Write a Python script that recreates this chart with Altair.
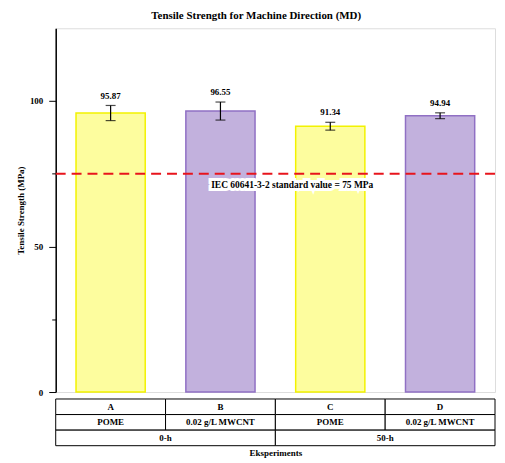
import altair as alt
import pandas as pd

groups = ["A", "B", "C", "D"]
materials = ["POME", "0.02 g/L MWCNT", "POME", "0.02 g/L MWCNT"]
times = ["0-h", "50-h"]
strength = [95.87, 96.55, 91.34, 94.94]
errors = [2.6, 3.1, 1.35, 1.0]
kinds = ["POME", "MWCNT", "POME", "MWCNT"]
standard_value = [75]

FONT = "Liberation Serif"
W, H = 442, 366

df = pd.DataFrame({
    "g": groups, "v": strength, "e": errors, "k": kinds,
})
df["lo"] = df["v"] - df["e"]
df["hi"] = df["v"] + df["e"]
df["lab"] = [f"{x:.2f}" for x in strength]

xs = alt.Scale(domain=groups, paddingInner=0.37, paddingOuter=0.185)
ys = alt.Scale(domain=[0, 125], nice=False)
xenc = alt.X("g:N", scale=xs, axis=None)

base = alt.Chart(df)
bars = base.mark_bar(strokeWidth=1.5).encode(
    x=xenc,
    y=alt.Y("v:Q", scale=ys, title="Tensile Strength (MPa)",
            axis=alt.Axis(values=[0, 25, 50, 75, 100], grid=False,
                          labelExpr="datum.value % 50 == 0 ? datum.label : ''",
                          tickSize={"condition": {"test": "datum.value % 50 == 0", "value": 7}, "value": 4},
                          domainColor="black", domainWidth=1.5, tickColor="black",
                          labelFont=FONT, labelFontWeight="bold", labelFontSize=9, labelColor="black",
                          titleFont=FONT, titleFontWeight="bold", titleFontSize=9, titleColor="black",
                          titlePadding=4, labelPadding=6)),
    fill=alt.Fill("k:N", scale=alt.Scale(domain=["POME", "MWCNT"], range=["#fdfd9e", "#c2b1dd"]), legend=None),
    stroke=alt.Stroke("k:N", scale=alt.Scale(domain=["POME", "MWCNT"], range=["#f2f200", "#9070c4"]), legend=None),
)
rule = base.mark_rule(color="black", strokeWidth=1.2).encode(x=xenc, y=alt.Y("lo:Q", scale=ys), y2="hi:Q")
cap_hi = base.mark_tick(color="black", thickness=1.2, size=10).encode(x=xenc, y=alt.Y("hi:Q", scale=ys))
cap_lo = base.mark_tick(color="black", thickness=1.2, size=10).encode(x=xenc, y=alt.Y("lo:Q", scale=ys))
labels = base.mark_text(font=FONT, fontWeight="bold", fontSize=9, baseline="bottom", dy=-5, color="black").encode(
    x=xenc, y=alt.Y("hi:Q", scale=ys), text="lab:N")

sdf = pd.DataFrame({"s": standard_value, "t": ["IEC 60641-3-2 standard value = 75 MPa"]})
sline = alt.Chart(sdf).mark_rule(color="#e8141c", strokeWidth=2, strokeDash=[10, 6]).encode(
    y=alt.Y("s:Q", scale=ys))
shalo = alt.Chart(sdf).mark_text(font=FONT, fontWeight="bold", fontSize=9.5, color="white", stroke="white",
                                 strokeWidth=6, dy=11).encode(
    x=alt.value(238), y=alt.Y("s:Q", scale=ys), text="t:N")
stext = alt.Chart(sdf).mark_text(font=FONT, fontWeight="bold", fontSize=9.5, color="black", dy=11).encode(
    x=alt.value(238), y=alt.Y("s:Q", scale=ys), text="t:N")

main = alt.layer(bars, rule, cap_hi, cap_lo, labels, sline, shalo, stext).properties(width=W, height=H)

rows = []
for i, g in enumerate(groups):
    rows.append({"r": "1", "x0": i, "x1": i + 1, "t": g})
for i, m in enumerate(materials):
    rows.append({"r": "2", "x0": i, "x1": i + 1, "t": m})
for i, t in enumerate(times):
    rows.append({"r": "3", "x0": 2 * i, "x1": 2 * i + 2, "t": t})
tdf = pd.DataFrame(rows)
tdf["xm"] = (tdf["x0"] + tdf["x1"]) / 2

txs = alt.Scale(domain=[0, 4], nice=False)
tys = alt.Scale(domain=["1", "2", "3"], paddingInner=0, paddingOuter=0)
cells = alt.Chart(tdf).mark_rect(fill="white", stroke="black", strokeWidth=1).encode(
    x=alt.X("x0:Q", scale=txs, axis=alt.Axis(labels=False, ticks=False, domain=False, grid=False,
                                              title="Eksperiments", titleFont=FONT, titleFontWeight="bold",
                                              titleFontSize=9, titleColor="black", titlePadding=3)),
    x2="x1:Q",
    y=alt.Y("r:N", scale=tys, axis=None),
)
ctext = alt.Chart(tdf).mark_text(font=FONT, fontWeight="bold", fontSize=9, color="black").encode(
    x=alt.X("xm:Q", scale=txs), y=alt.Y("r:N", scale=tys), text="t:N")
table = alt.layer(cells, ctext).properties(width=W, height=47, view=alt.ViewConfig(stroke=None))

chart = alt.vconcat(main, table, spacing=0).properties(
    title=alt.TitleParams("Tensile Strength for Machine Direction (MD)", font=FONT, fontWeight="bold",
                          fontSize=11, color="black", anchor="middle", offset=7),
    padding={"left": 8, "top": 0, "right": 0, "bottom": 0},
).configure_view(stroke="#555", strokeWidth=1.5).configure(background="white")

chart.save("out.html", embed_options={"renderer": "svg", "actions": False})
